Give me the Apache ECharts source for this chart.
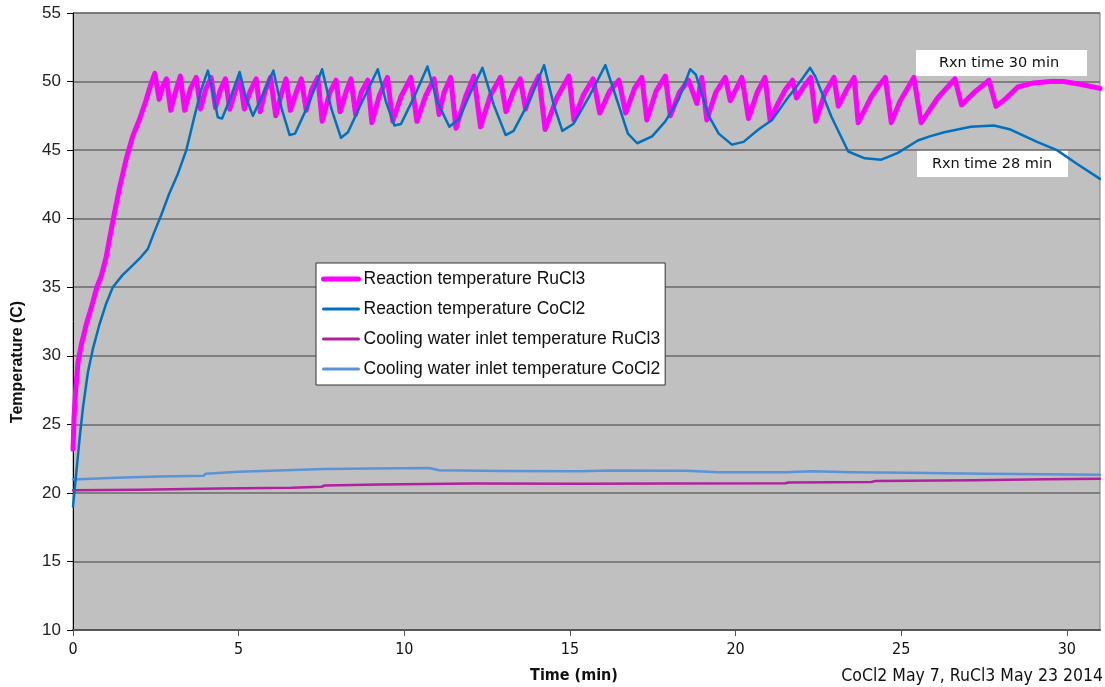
<!DOCTYPE html>
<html>
<head>
<meta charset="utf-8">
<script src="https://cdn.jsdelivr.net/npm/echarts@6/dist/echarts.min.js"></script>
<style>
  html, body { margin: 0; padding: 0; background: #ffffff; }
  #chart { width: 1105px; height: 687px; }
</style>
</head>
<body>
<div id="chart"></div>
<script>
// Reactor temperatures over time, [minutes, °C]
const reactionRuCl3 = [
  [0, 23.2], [0.03, 25.5], [0.08, 27.5], [0.15, 29.5], [0.25, 30.8], [0.4, 32.3], [0.55, 33.5],
  [0.72, 35.0], [0.85, 35.8], [1.0, 37.2], [1.2, 39.8], [1.4, 42.2], [1.6, 44.3], [1.8, 46.0],
  [2.0, 47.2], [2.2, 48.6], [2.35, 49.8], [2.47, 50.6],
  [2.6, 48.7], [2.7, 49.6], [2.82, 50.2], [2.95, 47.9], [3.1, 49.3], [3.24, 50.4], [3.37, 47.9],
  [3.55, 49.5], [3.72, 50.3], [3.85, 48.0], [4.0, 49.4], [4.17, 50.3], [4.3, 48.1], [4.45, 49.4],
  [4.6, 50.2], [4.73, 48.0], [4.9, 49.3], [5.03, 50.3], [5.17, 48.0], [5.35, 49.3], [5.53, 50.2],
  [5.65, 47.8], [5.8, 49.3], [5.96, 50.3], [6.12, 47.5], [6.3, 49.2], [6.43, 50.2], [6.56, 47.9],
  [6.75, 49.3], [6.89, 50.2], [7.04, 47.9], [7.2, 49.4], [7.39, 50.3], [7.52, 47.1], [7.75, 49.2],
  [7.94, 50.1], [8.06, 47.8], [8.25, 49.3], [8.39, 50.2], [8.53, 47.6], [8.7, 49.2], [8.9, 50.1],
  [9.02, 47.0], [9.25, 49.0], [9.49, 50.3], [9.65, 47.1], [9.9, 48.9], [10.2, 50.3], [10.38, 47.1],
  [10.65, 49.0], [10.9, 50.2], [11.05, 47.6], [11.2, 49.2], [11.4, 50.3], [11.56, 46.6], [11.85, 48.9],
  [12.1, 50.4], [12.3, 46.7], [12.6, 49.0], [12.9, 50.3], [13.07, 47.8], [13.3, 49.3], [13.5, 50.2],
  [13.66, 48.0], [13.85, 49.4], [14.06, 50.4], [14.25, 46.5], [14.6, 48.8], [14.97, 50.4], [15.12, 47.2],
  [15.4, 49.0], [15.7, 50.2], [15.9, 47.7], [16.2, 49.3], [16.48, 50.1], [16.68, 47.7], [16.95, 49.5],
  [17.17, 50.3], [17.32, 47.2], [17.6, 49.3], [17.88, 50.4], [18.03, 47.5], [18.3, 49.2], [18.58, 50.1],
  [18.83, 48.4], [18.98, 50.3], [19.13, 47.2], [19.4, 49.2], [19.69, 50.3], [19.84, 48.6], [20.19, 50.3],
  [20.39, 47.3], [20.65, 49.2], [20.89, 50.3], [21.04, 47.2], [21.3, 48.5], [21.5, 49.4], [21.72, 50.1],
  [21.84, 48.8], [22.05, 49.6], [22.27, 50.3], [22.42, 47.1], [22.7, 49.2], [22.97, 50.3], [23.1, 48.2],
  [23.35, 49.4], [23.58, 50.3], [23.7, 47.0], [24.1, 48.9], [24.3, 49.6], [24.52, 50.3], [24.7, 47.0],
  [24.95, 48.5], [25.38, 50.3], [25.6, 47.0], [26.1, 48.8], [26.62, 50.2], [26.82, 48.3], [27.2, 49.2],
  [27.65, 50.1], [27.86, 48.2], [28.13, 48.7], [28.52, 49.6], [29.0, 49.9], [29.5, 50.0], [29.9, 50.0],
  [30.4, 49.8], [31.0, 49.5]
];

const reactionCoCl2 = [
  [0, 19.0], [0.1, 21.5], [0.2, 24.0], [0.3, 26.2], [0.45, 28.8], [0.6, 30.5], [0.8, 32.3],
  [1.0, 33.8], [1.2, 35.0], [1.5, 35.9], [1.8, 36.6], [2.05, 37.2], [2.26, 37.8], [2.45, 39.0],
  [2.67, 40.3], [2.9, 41.8], [3.17, 43.3], [3.42, 45.0], [3.67, 47.5], [3.87, 49.4], [4.07, 50.8],
  [4.2, 49.5], [4.37, 47.4], [4.5, 47.3], [4.75, 48.8], [5.03, 50.7], [5.2, 49.0], [5.43, 47.5],
  [5.7, 48.9], [6.05, 50.8], [6.3, 48.0], [6.54, 46.1], [6.7, 46.2], [7.1, 48.3], [7.52, 50.9],
  [7.8, 48.0], [8.09, 45.9], [8.3, 46.3], [8.7, 48.4], [9.2, 50.9], [9.45, 48.5], [9.7, 46.8],
  [9.9, 46.9], [10.3, 48.9], [10.7, 51.1], [11.0, 48.5], [11.36, 46.7], [11.66, 47.3], [12.0, 49.2],
  [12.36, 51.0], [12.7, 48.3], [13.06, 46.1], [13.3, 46.4], [13.8, 48.7], [14.22, 51.2], [14.5, 48.4],
  [14.77, 46.4], [15.1, 46.9], [15.6, 49.0], [16.07, 51.2], [16.4, 48.8], [16.75, 46.2], [17.03, 45.5],
  [17.48, 46.0], [17.88, 47.1], [18.28, 48.7], [18.63, 50.9], [18.8, 50.5], [19.19, 47.5], [19.49, 46.2],
  [19.89, 45.4], [20.24, 45.6], [20.69, 46.5], [21.1, 47.2], [21.6, 48.9], [21.8, 49.5], [22.25, 51.0],
  [22.4, 50.4], [22.9, 47.4], [23.4, 44.9], [23.9, 44.4], [24.4, 44.3], [24.9, 44.8], [25.5, 45.7],
  [25.86, 46.0], [26.3, 46.3], [27.1, 46.7], [27.8, 46.8], [28.3, 46.5], [29.1, 45.6], [29.7, 45.0],
  [30.3, 44.0], [31.0, 42.9]
];

// Cooling water inlet temperatures, [minutes, °C]
const coolingRuCl3 = [
  [0, 20.2], [2, 20.22], [4.4, 20.32], [6.6, 20.37], [7.5, 20.45], [7.6, 20.54], [9.25, 20.61],
  [12.05, 20.69], [15.3, 20.66], [18, 20.68], [21.5, 20.7], [21.6, 20.76], [24.1, 20.8],
  [24.2, 20.86], [27.2, 20.93], [29.4, 21.0], [31, 21.04]
];

const coolingCoCl2 = [
  [0, 20.98], [1.3, 21.1], [2.6, 21.2], [3.95, 21.25], [4.0, 21.4], [5.0, 21.55], [7.6, 21.75],
  [9.0, 21.78], [10.75, 21.82], [11.05, 21.65], [13.0, 21.6], [15.3, 21.58], [16.2, 21.64],
  [18.5, 21.62], [19.5, 21.5], [21.5, 21.5], [22.3, 21.58], [23.5, 21.5], [25.2, 21.46],
  [27.5, 21.4], [29.4, 21.36], [31, 21.33]
];

const seriesNames = [
  'Reaction temperature RuCl3',
  'Reaction temperature CoCl2',
  'Cooling water inlet temperature RuCl3',
  'Cooling water inlet temperature CoCl2'
];
const seriesColors = ['#ff00ff', '#0070c0', '#b3209f', '#5b93d9'];
const seriesWidths = [5, 2.5, 2.5, 2.5];

const xTicks = { min: 0, max: 31, step: 5 };
const yTicks = { min: 10, max: 55, step: 5 };

const narrow = "'Liberation Sans Narrow', 'DejaVu Sans Condensed', 'Liberation Sans', sans-serif";
const arial = "'Liberation Sans', Arial, sans-serif";

const chart = echarts.init(document.getElementById('chart'), null, { renderer: 'canvas' });

function lineSeries(i, data, z) {
  return {
    name: seriesNames[i],
    type: 'line',
    data: data,
    symbol: 'none',
    smooth: false,
    z: z,
    lineStyle: { color: seriesColors[i], width: seriesWidths[i], join: 'round', cap: 'round' },
    itemStyle: { color: seriesColors[i] },
    animation: false
  };
}

chart.setOption({
  backgroundColor: '#ffffff',
  animation: false,
  grid: {
    left: 73, right: 5, top: 13, bottom: 57,
    show: true,
    backgroundColor: '#c0c0c0',
    borderColor: '#808080',
    borderWidth: 1
  },
  xAxis: {
    type: 'value',
    min: xTicks.min, max: xTicks.max, interval: xTicks.step,
    axisLine: { show: true, onZero: false, lineStyle: { color: '#555', width: 2 } },
    axisTick: { show: true, length: 6, lineStyle: { color: '#555', width: 1 } },
    axisLabel: {
      margin: 12, showMaxLabel: false,
      color: '#111', fontSize: 16, fontFamily: narrow
    },
    splitLine: { show: false }
  },
  yAxis: {
    type: 'value',
    min: yTicks.min, max: yTicks.max, interval: yTicks.step,
    axisLine: { show: true, onZero: false, lineStyle: { color: '#000', width: 1 } },
    axisTick: { show: true, length: 6, lineStyle: { color: '#000', width: 1 } },
    axisLabel: { margin: 12, color: '#222', fontSize: 17, fontFamily: arial },
    splitLine: { show: true, lineStyle: { color: '#6a6a6a', width: 1.5 } }
  },
  legend: {
    data: seriesNames.map(function (n, i) {
      return { name: n, lineStyle: { width: i === 0 ? 5 : 3, color: seriesColors[i] } };
    }),
    orient: 'vertical',
    left: 316, top: 263,
    backgroundColor: '#ffffff',
    borderColor: '#333',
    borderWidth: 1,
    borderRadius: 0,
    padding: [7, 5, 7, 5],
    itemWidth: 35, itemHeight: 14, itemGap: 12, itemTextGap: 2,
    itemStyle: { opacity: 0 },
    textStyle: { fontSize: 17.5, fontFamily: arial, color: '#111', lineHeight: 18 },
    selectedMode: false
  },
  series: [
    lineSeries(0, reactionRuCl3, 2),
    lineSeries(1, reactionCoCl2, 3),
    lineSeries(2, coolingRuCl3, 2),
    lineSeries(3, coolingCoCl2, 2)
  ],
  graphic: [
    {
      type: 'text', x: 18, y: 362, rotation: Math.PI / 2,
      style: {
        text: 'Temperature (C)', fill: '#111', align: 'center', verticalAlign: 'middle',
        font: "bold 16px 'Liberation Sans', Arial, sans-serif"
      }
    },
    {
      type: 'text', x: 574, y: 676,
      style: {
        text: 'Time (min)', fill: '#111', align: 'center', verticalAlign: 'middle',
        font: "bold 16px 'Liberation Sans Narrow', 'DejaVu Sans Condensed', sans-serif"
      }
    },
    {
      type: 'text', x: 1103, y: 676,
      style: {
        text: 'CoCl2 May 7, RuCl3 May 23 2014', fill: '#111', align: 'right', verticalAlign: 'middle',
        font: "17.5px 'Liberation Sans Narrow', 'DejaVu Sans Condensed', sans-serif"
      }
    },
    {
      type: 'group', z: 100,
      children: [
        { type: 'rect', shape: { x: 916, y: 50, width: 171, height: 26 }, style: { fill: '#ffffff' } },
        {
          type: 'text', x: 999, y: 63,
          style: {
            text: 'Rxn time 30 min', fill: '#111', align: 'center', verticalAlign: 'middle',
            font: "14.5px 'DejaVu Sans', Verdana, sans-serif"
          }
        },
        { type: 'rect', shape: { x: 917, y: 150, width: 151, height: 27 }, style: { fill: '#ffffff' } },
        {
          type: 'text', x: 992, y: 164,
          style: {
            text: 'Rxn time 28 min', fill: '#111', align: 'center', verticalAlign: 'middle',
            font: "14.5px 'DejaVu Sans', Verdana, sans-serif"
          }
        }
      ]
    }
  ]
});
</script>
</body>
</html>
